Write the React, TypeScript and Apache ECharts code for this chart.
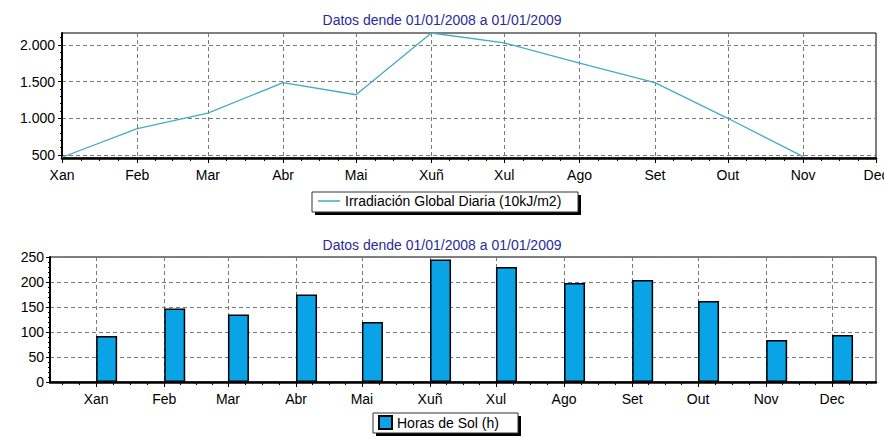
import React, { useEffect, useRef } from "react";
import * as echarts from "echarts";

const monthLabels = ["Xan", "Feb", "Mar", "Abr", "Mai", "Xuñ", "Xul", "Ago", "Set", "Out", "Nov", "Dec"];
const year = 2008;
const chartTitle = "Datos dende 01/01/2008 a 01/01/2009";
const irrName = "Irradiación Global Diaria (10kJ/m2)";
const sunName = "Horas de Sol (h)";
// Xan..Nov
const irradiation = [470, 860, 1070, 1485, 1320, 2160, 2025, 1750, 1485, 1000, 478];
// Xan..Dec
const sunHours = [92, 147, 135, 175, 120, 245, 230, 198, 204, 162, 84, 94];
const irrTicks = [500, 1000, 1500, 2000];

const FONT = "'Liberation Sans', Arial, sans-serif";
const FS = 14;

const fmtThousands = (v: number) => String(v).replace(/\B(?=(\d{3})+(?!\d))/g, ".");

export default function App() {
  const ref = useRef<HTMLDivElement>(null);
  useEffect(() => {
    if (!ref.current) return;
    const chart = echarts.init(ref.current, null, { renderer: "svg" });
    const monthStarts = monthLabels.map((_, i) => new Date(year, i, 1).getTime());
    const monthFmt = (v: number) => monthLabels[new Date(v).getMonth()];
    const dash = { type: [4, 3] as any, color: "#7a7a7a", width: 1 };

    // minor tick positions: quarters of each month
    const minorTicks: number[] = [];
    for (let i = -1; i <= 12; i++) {
      const a = new Date(year, i, 1).getTime();
      const b = new Date(year, i + 1, 1).getTime();
      for (let k = 1; k < 4; k++) minorTicks.push(a + ((b - a) * k) / 4);
    }
    const yMinor1: number[] = [];
    for (let v = 500; v <= 2100; v += 100) yMinor1.push(v);
    const yMinor2: number[] = [];
    for (let v = 0; v <= 250; v += 10) yMinor2.push(v);

    const x1min = monthStarts[0];
    const x1max = monthStarts[11];
    const x2min = new Date(2007, 11, 11).getTime();
    const x2max = new Date(2008, 11, 21).getTime();

    const xAxisBase = (gridIndex: number, min: number, max: number) => ({
      gridIndex,
      type: "value",
      position: "bottom",
      min,
      max,
      axisLine: { show: true, lineStyle: { color: "#000", width: 2.5 } },
      axisTick: { show: true, customValues: monthStarts, length: 5, lineStyle: { color: "#000", width: 1 } },
      axisLabel: {
        show: true,
        customValues: monthStarts,
        formatter: monthFmt,
        color: "#000",
        fontSize: FS,
        fontFamily: FONT,
        margin: 10,
        hideOverlap: false,
      },
      splitLine: { show: true, lineStyle: dash },
    });
    const xMinorAxis = (gridIndex: number, min: number, max: number) => ({
      gridIndex,
      type: "value",
      position: "bottom",
      min,
      max,
      axisLine: { show: false },
      axisTick: { show: true, customValues: minorTicks.filter((t) => t > min && t < max), length: 3, lineStyle: { color: "#000", width: 1 } },
      axisLabel: { show: false },
      splitLine: { show: false },
    });
    const yMinorAxis = (gridIndex: number, min: number, max: number, vals: number[]) => ({
      gridIndex,
      type: "value",
      position: "left",
      min,
      max,
      axisLine: { show: false },
      axisTick: { show: true, customValues: vals, length: 2, lineStyle: { color: "#000", width: 1 } },
      axisLabel: { show: false },
      splitLine: { show: false },
    });

    const legendText = { color: "#000", fontSize: FS, fontFamily: FONT };

    chart.setOption({
      animation: false,
      backgroundColor: "#fff",
      textStyle: { fontFamily: FONT },
      title: [
        { text: chartTitle, left: "center", top: 8, textStyle: { color: "#2b2b99", fontSize: FS, fontWeight: "normal", fontFamily: FONT } },
        { text: chartTitle, left: "center", top: 233, textStyle: { color: "#2b2b99", fontSize: FS, fontWeight: "normal", fontFamily: FONT } },
      ],
      graphic: [
        { type: "rect", shape: { x: 315, y: 195, width: 266, height: 20 }, style: { fill: "#000" }, z: 1 },
        { type: "rect", shape: { x: 312, y: 192, width: 266, height: 20 }, style: { fill: "#fff", stroke: "#333", lineWidth: 1 }, z: 2 },
        { type: "rect", shape: { x: 376, y: 416, width: 145, height: 20 }, style: { fill: "#000" }, z: 1 },
        { type: "rect", shape: { x: 373, y: 413, width: 145, height: 20 }, style: { fill: "#fff", stroke: "#333", lineWidth: 1 }, z: 2 },
      ],
      legend: [
        {
          data: [irrName],
          left: 318,
          top: 194,
          icon: "rect",
          itemWidth: 22,
          itemHeight: 1.5,
          itemGap: 6,
          padding: 0,
          textStyle: legendText,
          selectedMode: false,
          z: 10,
        },
        {
          data: [sunName],
          left: 378,
          top: 415,
          icon: "rect",
          itemWidth: 13,
          itemHeight: 13,
          padding: 0,
          textStyle: legendText,
          selectedMode: false,
          z: 10,
        },
      ],
      grid: [
        { left: 62, top: 33, width: 814, height: 125, show: true, borderColor: "#000", borderWidth: 1, backgroundColor: "transparent", outerBoundsMode: "none", containLabel: false },
        { left: 50, top: 257, width: 826, height: 125, show: true, borderColor: "#000", borderWidth: 1, backgroundColor: "transparent", outerBoundsMode: "none", containLabel: false },
      ],
      xAxis: [
        xAxisBase(0, x1min, x1max),
        xAxisBase(1, x2min, x2max),
        xMinorAxis(0, x1min, x1max),
        xMinorAxis(1, x2min, x2max),
      ],
      yAxis: [
        {
          gridIndex: 0,
          type: "value",
          position: "left",
          min: 460,
          max: 2160,
          axisLine: { show: true, lineStyle: { color: "#000", width: 2 } },
          axisTick: { show: true, customValues: irrTicks, length: 4, lineStyle: { color: "#000" } },
          axisLabel: { customValues: irrTicks, formatter: fmtThousands, color: "#000", fontSize: FS, fontFamily: FONT, margin: 7 },
          splitLine: { show: true, lineStyle: dash },
        },
        {
          gridIndex: 1,
          type: "value",
          position: "left",
          min: 0,
          max: 250,
          interval: 50,
          axisLine: { show: true, lineStyle: { color: "#000", width: 2 } },
          axisTick: { show: true, length: 4, lineStyle: { color: "#000" } },
          axisLabel: { color: "#000", fontSize: FS, fontFamily: FONT, margin: 6 },
          splitLine: { show: true, lineStyle: dash },
        },
        yMinorAxis(0, 460, 2160, yMinor1),
        yMinorAxis(1, 0, 250, yMinor2),
      ],
      series: [
        {
          name: irrName,
          type: "line",
          xAxisIndex: 0,
          yAxisIndex: 0,
          data: irradiation.map((v, i) => [monthStarts[i], v]),
          showSymbol: false,
          symbol: "none",
          lineStyle: { color: "#45aac8", width: 1.3 },
          itemStyle: { color: "#45aac8" },
        },
        {
          name: "_pad",
          type: "bar",
          xAxisIndex: 1,
          yAxisIndex: 1,
          barWidth: 21,
          barGap: "0%",
          data: monthStarts.map((t) => [t, "-"]),
          itemStyle: { color: "transparent" },
        },
        {
          name: sunName,
          type: "bar",
          xAxisIndex: 1,
          yAxisIndex: 1,
          barWidth: 21,
          barGap: "0%",
          data: sunHours.map((v, i) => [monthStarts[i], v]),
          itemStyle: { color: "#0aa3e6", borderColor: "#000", borderWidth: 1.5 },
        },
      ],
    });
    return () => chart.dispose();
  }, []);
  return <div ref={ref} style={{ position: "fixed", left: 0, top: 0, width: 884, height: 439 }} />;
}
